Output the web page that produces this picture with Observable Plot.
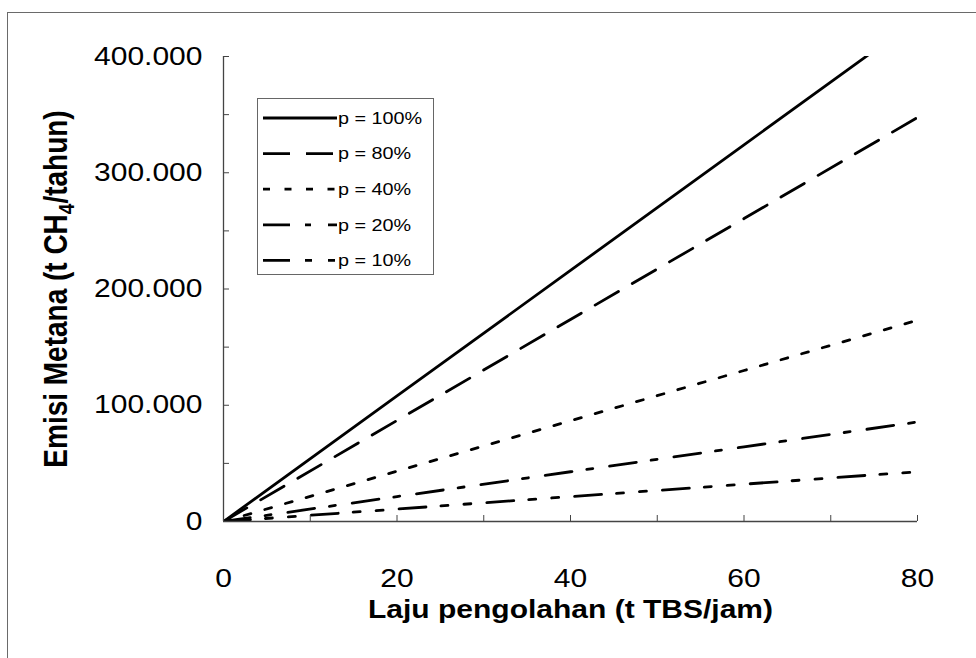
<!DOCTYPE html>
<html><head><meta charset="utf-8">
<script src="https://cdn.jsdelivr.net/npm/d3@7"></script>
<script src="https://cdn.jsdelivr.net/npm/@observablehq/plot@0.6"></script>
<style>
html,body{margin:0;padding:0;background:#fff;}
#wrap{position:relative;width:976px;height:658px;overflow:hidden;font-family:"Liberation Sans",Arial,sans-serif;}
#frame{position:absolute;left:7px;top:12px;width:990px;height:700px;border-top:1.5px solid #6a6a6a;border-left:1.5px solid #6a6a6a;}
#chart{position:absolute;left:0;top:0;}
#legend{position:absolute;left:257px;top:98px;width:177px;height:177px;border:1px solid #666;box-sizing:border-box;background:#fff;}
</style></head>
<body><div id="wrap"><div id="frame"></div><div id="chart"></div><div id="legend"></div></div>
<script>
// ---- data ----
const xValues = [0, 20, 40, 60, 80];
const p100 = [0, 108000, 216000, 324000, 432000];
const p80  = [0, 86900, 173800, 260600, 347500];
const p40  = [0, 43300, 86600, 129900, 173200];
const p20  = [0, 21400, 42800, 64200, 85600];
const p10  = [0, 10700, 21400, 32100, 42800];
const seriesNames = ["p = 100%", "p = 80%", "p = 40%", "p = 20%", "p = 10%"];
const seriesValues = [p100, p80, p40, p20, p10];
const dashes = [null, "27,16", "7,14.5", "27,15,6,17", "27,15,7,16,7,16"];
const xTicks = [0, 20, 40, 60, 80];
const xMinorTicks = [0, 10, 20, 30, 40, 50, 60, 70, 80];
const yTicks = [0, 100000, 200000, 300000, 400000];
const yMinorTicks = [0, 50000, 100000, 150000, 200000, 250000, 300000, 350000, 400000];
const xTitle = "Laju pengolahan (t TBS/jam)";
const yTitle = "Emisi Metana (t CH4/tahun)";

const SX = 1.2; // horizontal stretch of the scanned text
const fmt = d => d3.format(",")(d).replace(/,/g, ".");

const lineMarks = seriesValues.map((vals, i) =>
  Plot.line(xValues.map((xv, j) => ({x: xv, y: vals[j]})), {
    x: "x", y: "y", stroke: "#000", strokeWidth: 2.8,
    strokeDasharray: dashes[i] || undefined, clip: true
  })
);

const chart = Plot.plot({
  width: 976, height: 658,
  marginLeft: 223, marginRight: 59, marginTop: 56, marginBottom: 137,
  style: {background: "transparent", fontFamily: "'Liberation Sans', Arial, sans-serif", color: "#000"},
  x: {domain: [0, 80], axis: null},
  y: {domain: [0, 400000], axis: null},
  marks: [
    ...lineMarks,
    Plot.ruleX([0], {stroke: "#444", strokeWidth: 1.3}),
    Plot.ruleY([0], {stroke: "#444", strokeWidth: 1.3}),
    Plot.axisX({ticks: xMinorTicks, tickSize: -6, text: null, label: null, stroke: "#444"}),
    Plot.axisY({ticks: yMinorTicks, tickSize: -6, text: null, label: null, stroke: "#444"}),
    Plot.axisX({ticks: xTicks, tickSize: 0, tickPadding: 48, fontSize: 25, label: null, className: "xtl"}),
    Plot.axisY({ticks: yTicks, tickSize: 0, tickPadding: 21, fontSize: 25, tickFormat: fmt, label: null, className: "ytl"}),
    Plot.text([xTitle], {frameAnchor: "bottom", dy: 88, textAnchor: "middle", lineAnchor: "middle", fontSize: 25, fontWeight: "bold", className: "xtitle"}),
    Plot.text([yTitle], {frameAnchor: "left", dx: -167, rotate: -90, textAnchor: "middle", lineAnchor: "middle", fontSize: 28, fontWeight: "bold", className: "ytitle"})
  ]
});
document.getElementById("chart").appendChild(chart);

// stretch text horizontally like the scanned original
function stretch(el) {
  const t = el.getAttribute("transform") || "";
  if (t.includes("rotate")) el.setAttribute("transform", t.replace(" rotate(", ` scale(${SX},1) rotate(`));
  else el.setAttribute("transform", t + ` scale(${SX},1)`);
}
chart.querySelectorAll(".xtl text, .ytl text, .xtitle text, .ytitle text").forEach(stretch);
// subscript 4 in CH4
chart.querySelectorAll(".ytitle text").forEach(el => {
  const [a, b] = el.textContent.split("CH4");
  el.textContent = "";
  const ns = "http://www.w3.org/2000/svg";
  const t1 = document.createElementNS(ns, "tspan"); t1.textContent = a + "CH";
  const t2 = document.createElementNS(ns, "tspan"); t2.textContent = "4"; t2.setAttribute("dy", "6"); t2.setAttribute("font-size", "0.68em");
  const t3 = document.createElementNS(ns, "tspan"); t3.textContent = b; t3.setAttribute("dy", "-6");
  el.append(t1, t2, t3);
});

// legend
const lg = d3.select("#legend").append("svg").attr("width", 177).attr("height", 177)
  .style("position", "absolute").style("left", "-1px").style("top", "-1px");
seriesNames.forEach((name, i) => {
  const y = 20 + i * 35.6;
  lg.append("line").attr("x1", 6).attr("x2", 80).attr("y1", y).attr("y2", y)
    .attr("stroke", "#000").attr("stroke-width", 2.8)
    .attr("stroke-dasharray", dashes[i] || null);
  lg.append("text").attr("transform", `translate(81,${y}) scale(${SX},1)`)
    .attr("dy", "0.35em").attr("font-size", 16.5).attr("fill", "#000")
    .attr("font-family", "'Liberation Sans', Arial, sans-serif").text(name);
});
</script>
</body></html>
